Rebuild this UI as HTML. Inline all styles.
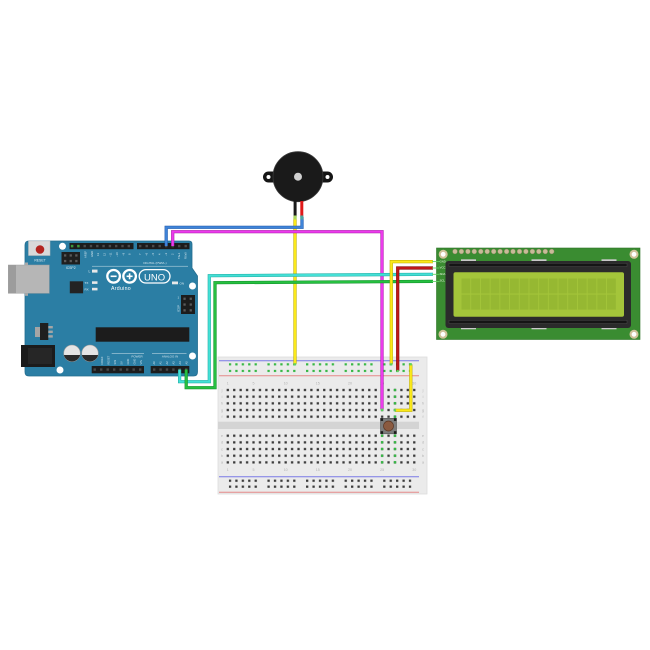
<!DOCTYPE html>
<html><head><meta charset="utf-8"><style>
html,body{margin:0;padding:0;background:#fff;}
svg{display:block;}
text{font-family:"Liberation Sans",sans-serif;}
</style></head><body>
<svg width="650" height="650" viewBox="0 0 650 650" xmlns="http://www.w3.org/2000/svg">
<defs>
 <pattern id="bbt" x="224.585" y="386.67" width="6.43" height="6.67" patternUnits="userSpaceOnUse"><rect x="2.065" y="2.185" width="2.3" height="2.3" fill="#3a3a3a"/></pattern>
 <pattern id="bbb" x="224.585" y="432.37" width="6.43" height="6.67" patternUnits="userSpaceOnUse"><rect x="2.065" y="2.185" width="2.3" height="2.3" fill="#3a3a3a"/></pattern>
 <pattern id="railt" x="228.85" y="363.15" width="38.58" height="6.7" patternUnits="userSpaceOnUse">
  <rect x="0" y="0" width="2.3" height="2.3" fill="#36b845"/><rect x="6.43" y="0" width="2.3" height="2.3" fill="#36b845"/><rect x="12.86" y="0" width="2.3" height="2.3" fill="#36b845"/><rect x="19.29" y="0" width="2.3" height="2.3" fill="#36b845"/><rect x="25.72" y="0" width="2.3" height="2.3" fill="#36b845"/>
 </pattern>
 <pattern id="railb" x="228.85" y="479.55" width="38.58" height="6" patternUnits="userSpaceOnUse">
  <rect x="0" y="0" width="2.3" height="2.3" fill="#3a3a3a"/><rect x="6.43" y="0" width="2.3" height="2.3" fill="#3a3a3a"/><rect x="12.86" y="0" width="2.3" height="2.3" fill="#3a3a3a"/><rect x="19.29" y="0" width="2.3" height="2.3" fill="#3a3a3a"/><rect x="25.72" y="0" width="2.3" height="2.3" fill="#3a3a3a"/>
 </pattern>
</defs>

<!-- ================= BREADBOARD ================= -->
<rect x="218" y="357" width="209" height="137" fill="#ebebeb" stroke="#dcdcdc" stroke-width="0.8"/>
<rect x="218" y="421.7" width="201" height="7.3" fill="#d4d4d4"/>
<line x1="219" y1="360.7" x2="419" y2="360.7" stroke="#7a7ae6" stroke-width="1"/>
<line x1="219" y1="375.7" x2="419" y2="375.7" stroke="#e58a8a" stroke-width="1"/>
<line x1="219" y1="476.7" x2="419" y2="476.7" stroke="#7a7ae6" stroke-width="1"/>
<line x1="219" y1="492.3" x2="419" y2="492.3" stroke="#e58a8a" stroke-width="1"/>
<rect x="228.85" y="363.15" width="182.5" height="9" fill="url(#railt)"/>
<rect x="228.85" y="479.55" width="182.5" height="8.4" fill="url(#railb)"/>
<rect x="224.585" y="386.67" width="192.9" height="33.35" fill="url(#bbt)"/>
<rect x="224.585" y="432.37" width="192.9" height="33.35" fill="url(#bbb)"/>
<!-- green connected holes -->
<g fill="#36b845">
 <rect x="393.85" y="388.85" width="2.3" height="2.3"/><rect x="393.85" y="395.55" width="2.3" height="2.3"/><rect x="393.85" y="402.15" width="2.3" height="2.3"/><rect x="393.85" y="408.85" width="2.3" height="2.3"/><rect x="393.85" y="415.55" width="2.3" height="2.3"/>
 <rect x="380.95" y="408.85" width="2.3" height="2.3"/>
 <rect x="380.95" y="434.55" width="2.3" height="2.3"/><rect x="380.95" y="441.15" width="2.3" height="2.3"/><rect x="380.95" y="447.85" width="2.3" height="2.3"/><rect x="380.95" y="454.55" width="2.3" height="2.3"/><rect x="380.95" y="461.15" width="2.3" height="2.3"/>
 <rect x="393.85" y="434.55" width="2.3" height="2.3"/><rect x="393.85" y="441.15" width="2.3" height="2.3"/><rect x="393.85" y="447.85" width="2.3" height="2.3"/><rect x="393.85" y="454.55" width="2.3" height="2.3"/><rect x="393.85" y="461.15" width="2.3" height="2.3"/>
</g>
<!-- labels -->
<g font-size="3.6" fill="#b0b0b0" text-anchor="middle">
 <text x="227.8" y="384.5">1</text><text x="253.5" y="384.5">5</text><text x="285.7" y="384.5">10</text><text x="317.8" y="384.5">15</text><text x="350" y="384.5">20</text><text x="382.1" y="384.5">25</text><text x="414.3" y="384.5">30</text>
 <text x="227.8" y="471">1</text><text x="253.5" y="471">5</text><text x="285.7" y="471">10</text><text x="317.8" y="471">15</text><text x="350" y="471">20</text><text x="382.1" y="471">25</text><text x="414.3" y="471">30</text>
 <text x="222" y="391.3">j</text><text x="222" y="398">i</text><text x="222" y="404.6">h</text><text x="222" y="411.3">g</text><text x="222" y="418">f</text>
 <text x="222" y="437">e</text><text x="222" y="443.6">d</text><text x="222" y="450.3">c</text><text x="222" y="457">b</text><text x="222" y="463.6">a</text>
 <text x="423" y="391.3">j</text><text x="423" y="398">i</text><text x="423" y="404.6">h</text><text x="423" y="411.3">g</text><text x="423" y="418">f</text>
 <text x="423" y="437">e</text><text x="423" y="443.6">d</text><text x="423" y="450.3">c</text><text x="423" y="457">b</text><text x="423" y="463.6">a</text>
</g>
<!-- push button -->
<rect x="380.5" y="418.3" width="16" height="15.5" fill="#7c7c7c" stroke="#555" stroke-width="0.6"/>
<g fill="#1a1a1a"><rect x="380.5" y="418.3" width="2.6" height="2.6"/><rect x="393.9" y="418.3" width="2.6" height="2.6"/><rect x="380.5" y="431.2" width="2.6" height="2.6"/><rect x="393.9" y="431.2" width="2.6" height="2.6"/></g>
<circle cx="388.5" cy="426" r="5" fill="#8a5a40" stroke="#5a3522" stroke-width="0.7"/>

<!-- ================= ARDUINO ================= -->
<path d="M29,241 H189 Q192,241 192,244 V268 L197.5,276 V372 Q197.5,376 193.5,376 H29 Q25,376 25,372 V245 Q25,241 29,241 Z" fill="#2b7ea4" stroke="#246d8f" stroke-width="0.8"/>
<!-- USB -->
<rect x="8.3" y="265" width="41" height="28.3" fill="#b6b6b6" stroke="#a0a0a0" stroke-width="0.5"/>
<rect x="8.3" y="265" width="7.7" height="28.3" fill="#9c9c9c"/>
<rect x="25" y="262.5" width="3" height="2.5" fill="#a8a8a8"/><rect x="25" y="293.3" width="3" height="2.5" fill="#a8a8a8"/>
<!-- reset -->
<rect x="28.5" y="241" width="21.5" height="14.5" fill="#d9d9d9" stroke="#bdbdbd" stroke-width="0.5"/>
<circle cx="40" cy="249.5" r="4.3" fill="#b3241f"/>
<text x="40" y="261.5" font-size="3.4" fill="#e6f0f5" text-anchor="middle">RESET</text>
<!-- mounting holes -->
<circle cx="62.5" cy="246.3" r="3.5" fill="#fff"/>
<circle cx="192.5" cy="286" r="3.5" fill="#fff"/>
<circle cx="192.5" cy="356" r="3.5" fill="#fff"/>
<circle cx="60" cy="370" r="3.5" fill="#fff"/>
<!-- ICSP2 -->
<rect x="61.5" y="252" width="18.5" height="12.5" fill="#1f1f1f"/>
<g fill="#5a5a5a"><rect x="64" y="254.3" width="2.3" height="2.3"/><rect x="69.6" y="254.3" width="2.3" height="2.3"/><rect x="75.2" y="254.3" width="2.3" height="2.3"/><rect x="64" y="259.9" width="2.3" height="2.3"/><rect x="69.6" y="259.9" width="2.3" height="2.3"/><rect x="75.2" y="259.9" width="2.3" height="2.3"/></g>
<text x="70.7" y="268.8" font-size="3.4" fill="#e6f0f5" text-anchor="middle">ICSP2</text>
<!-- top headers -->
<rect x="69.5" y="243" width="64" height="6.2" fill="#1c1c1c"/>
<line x1="70.9" y1="246.1" x2="133" y2="246.1" stroke="#4a4a4a" stroke-width="2.4" stroke-dasharray="2.4 3.9"/>
<rect x="70.9" y="244.9" width="2.4" height="2.4" fill="#3a9a3a"/><rect x="77.2" y="244.9" width="2.4" height="2.4" fill="#3a9a3a"/>
<rect x="137" y="243" width="52.5" height="6.2" fill="#1c1c1c"/>
<line x1="139" y1="246.1" x2="189" y2="246.1" stroke="#4a4a4a" stroke-width="2.4" stroke-dasharray="2.4 4.1"/>
<g font-size="2.7" fill="#d5e6ee">
 <text transform="translate(86.5,258) rotate(-90)">AREF</text>
 <text transform="translate(92.8,257) rotate(-90)">GND</text>
 <text transform="translate(99.1,256) rotate(-90)">13</text>
 <text transform="translate(105.4,256) rotate(-90)">12</text>
 <text transform="translate(111.7,257) rotate(-90)">~11</text>
 <text transform="translate(118,257) rotate(-90)">~10</text>
 <text transform="translate(124.3,256) rotate(-90)">~9</text>
 <text transform="translate(130.6,255) rotate(-90)">8</text>
 <text transform="translate(141.2,255) rotate(-90)">7</text>
 <text transform="translate(147.7,256) rotate(-90)">~6</text>
 <text transform="translate(154.2,256) rotate(-90)">~5</text>
 <text transform="translate(160.7,255) rotate(-90)">4</text>
 <text transform="translate(167.2,256) rotate(-90)">~3</text>
 <text transform="translate(173.7,255) rotate(-90)">2</text>
 <text transform="translate(180.2,259) rotate(-90)">TX▸1</text>
 <text transform="translate(186.7,259) rotate(-90)">RX◂0</text>
</g>
<text x="155" y="264" font-size="3" fill="#d5e6ee" text-anchor="middle">DIGITAL (PWM~)</text>
<line x1="92" y1="266.2" x2="188" y2="266.2" stroke="#d5e6ee" stroke-width="0.5"/>
<!-- LEDs -->
<rect x="92" y="269.6" width="5.5" height="3" fill="#e8e8e8"/>
<text x="88.5" y="272.6" font-size="3.3" fill="#e6f0f5">L</text>
<rect x="92" y="281.3" width="5.5" height="2.6" fill="#e8e8e8"/>
<rect x="92" y="287.8" width="5.5" height="2.6" fill="#e8e8e8"/>
<text x="84.5" y="284" font-size="3" fill="#e6f0f5">TX</text>
<text x="84.5" y="290.5" font-size="3" fill="#e6f0f5">RX</text>
<rect x="172" y="281.5" width="6" height="2.8" fill="#e8e8e8"/>
<text x="179.5" y="284.3" font-size="3" fill="#e6f0f5">ON</text>
<!-- small chip -->
<rect x="69.8" y="281.3" width="13.3" height="12" fill="#232323"/>
<!-- logo -->
<circle cx="113.6" cy="276.3" r="6.3" fill="none" stroke="#fff" stroke-width="2.3"/>
<circle cx="129.6" cy="276.3" r="6.3" fill="none" stroke="#fff" stroke-width="2.3"/>
<line x1="110.6" y1="276.3" x2="116.6" y2="276.3" stroke="#fff" stroke-width="1.6"/>
<line x1="126.6" y1="276.3" x2="132.6" y2="276.3" stroke="#fff" stroke-width="1.6"/>
<line x1="129.6" y1="273.3" x2="129.6" y2="279.3" stroke="#fff" stroke-width="1.6"/>
<rect x="139.2" y="269.6" width="30.8" height="13.4" rx="6.7" fill="none" stroke="#fff" stroke-width="1.3"/>
<text x="154.6" y="280.4" font-size="9.5" fill="#fff" text-anchor="middle">UNO</text>
<text x="121" y="289.8" font-size="5.2" fill="#fff" text-anchor="middle" letter-spacing="0.3">Arduino</text>
<!-- right ICSP -->
<rect x="181" y="295" width="14" height="19" fill="#1c1c1c"/>
<g fill="#5a5a5a"><rect x="183.4" y="297.6" width="2.3" height="2.3"/><rect x="189.6" y="297.6" width="2.3" height="2.3"/><rect x="183.4" y="303.4" width="2.3" height="2.3"/><rect x="189.6" y="303.4" width="2.3" height="2.3"/><rect x="183.4" y="309.2" width="2.3" height="2.3"/><rect x="189.6" y="309.2" width="2.3" height="2.3"/></g>
<text transform="translate(179.5,312) rotate(-90)" font-size="3" fill="#d5e6ee">ICSP</text>
<text x="177.5" y="298.5" font-size="3" fill="#d5e6ee">1</text>
<!-- regulator -->
<rect x="35" y="327" width="5.5" height="10" fill="#a5a5a5"/>
<rect x="40" y="323" width="8.3" height="17" fill="#1f1f1f"/>
<g fill="#a5a5a5"><rect x="48.3" y="326" width="4.5" height="2.4"/><rect x="48.3" y="330.6" width="4.5" height="2.4"/><rect x="48.3" y="335.2" width="4.5" height="2.4"/></g>
<!-- power jack -->
<rect x="21" y="345" width="34" height="22" fill="#1b1b1b"/>
<rect x="28" y="348" width="24" height="16" fill="#262626"/>
<!-- capacitors -->
<circle cx="72" cy="353.3" r="8.3" fill="#e4e4e4" stroke="#9a9a9a" stroke-width="0.6"/>
<path d="M63.9,355 A8.3,8.3 0 0,0 80.1,355 Z" fill="#2a2a2a"/>
<circle cx="90" cy="353.3" r="8.3" fill="#e4e4e4" stroke="#9a9a9a" stroke-width="0.6"/>
<path d="M81.9,355 A8.3,8.3 0 0,0 98.1,355 Z" fill="#2a2a2a"/>
<!-- big chip -->
<rect x="95.7" y="327.3" width="93.6" height="14.4" fill="#1c1c1c"/>
<!-- bottom labels -->
<line x1="111.7" y1="353.3" x2="144" y2="353.3" stroke="#d5e6ee" stroke-width="0.5"/>
<line x1="152" y1="353.3" x2="186.5" y2="353.3" stroke="#d5e6ee" stroke-width="0.5"/>
<text x="137" y="357.3" font-size="3" fill="#d5e6ee" text-anchor="middle">POWER</text>
<text x="170" y="357.3" font-size="3" fill="#d5e6ee" text-anchor="middle">ANALOG IN</text>
<g font-size="2.6" fill="#d5e6ee">
 <text transform="translate(103.2,364.5) rotate(-90)">IOREF</text>
 <text transform="translate(109.7,364.5) rotate(-90)">RESET</text>
 <text transform="translate(116.2,364.5) rotate(-90)">3V3</text>
 <text transform="translate(122.7,364.5) rotate(-90)">5V</text>
 <text transform="translate(129.2,364.5) rotate(-90)">GND</text>
 <text transform="translate(135.7,364.5) rotate(-90)">GND</text>
 <text transform="translate(142.2,364.5) rotate(-90)">VIN</text>
 <text transform="translate(155.2,364.5) rotate(-90)">A0</text>
 <text transform="translate(161.6,364.5) rotate(-90)">A1</text>
 <text transform="translate(168,364.5) rotate(-90)">A2</text>
 <text transform="translate(174.5,364.5) rotate(-90)">A3</text>
 <text transform="translate(180.9,364.5) rotate(-90)">A4</text>
 <text transform="translate(187.3,364.5) rotate(-90)">A5</text>
</g>
<!-- bottom headers -->
<rect x="91.7" y="366" width="52.3" height="7.3" fill="#1c1c1c"/>
<line x1="93.5" y1="369.6" x2="144" y2="369.6" stroke="#4a4a4a" stroke-width="2.4" stroke-dasharray="2.4 4.1"/>
<rect x="150.7" y="366" width="38.6" height="7.3" fill="#1c1c1c"/>
<line x1="153" y1="369.6" x2="189" y2="369.6" stroke="#4a4a4a" stroke-width="2.4" stroke-dasharray="2.4 4"/>

<!-- ================= LCD ================= -->
<rect x="436.5" y="248" width="203.5" height="91.5" fill="#3a8c31" stroke="#2e7427" stroke-width="0.6"/>
<g fill="#c8bb98" stroke="#8f8464" stroke-width="0.4">
 <circle cx="455" cy="251.5" r="2.4"/><circle cx="461.4" cy="251.5" r="2.4"/><circle cx="467.9" cy="251.5" r="2.4"/><circle cx="474.3" cy="251.5" r="2.4"/><circle cx="480.8" cy="251.5" r="2.4"/><circle cx="487.2" cy="251.5" r="2.4"/><circle cx="493.7" cy="251.5" r="2.4"/><circle cx="500.1" cy="251.5" r="2.4"/><circle cx="506.6" cy="251.5" r="2.4"/><circle cx="513" cy="251.5" r="2.4"/><circle cx="519.5" cy="251.5" r="2.4"/><circle cx="525.9" cy="251.5" r="2.4"/><circle cx="532.4" cy="251.5" r="2.4"/><circle cx="538.8" cy="251.5" r="2.4"/><circle cx="545.3" cy="251.5" r="2.4"/><circle cx="551.7" cy="251.5" r="2.4"/>
</g>
<g fill="#cfc29a"><circle cx="443.2" cy="254.3" r="4.5"/><circle cx="634" cy="254.3" r="4.5"/><circle cx="443" cy="334.3" r="4.5"/><circle cx="634" cy="334.3" r="4.5"/></g>
<g fill="#ffffff"><circle cx="443.2" cy="254.3" r="2.4"/><circle cx="634" cy="254.3" r="2.4"/><circle cx="443" cy="334.3" r="2.4"/><circle cx="634" cy="334.3" r="2.4"/></g>
<g fill="#c9c9c9"><rect x="461" y="259.3" width="15" height="2"/><rect x="531.5" y="259.3" width="15" height="2"/><rect x="601.5" y="259.3" width="15" height="2"/>
<rect x="461" y="327.3" width="15" height="2"/><rect x="531.5" y="327.3" width="15" height="2"/><rect x="601.5" y="327.3" width="15" height="2"/></g>
<rect x="445.5" y="261" width="185.5" height="67" rx="3" fill="#2b2b2b"/>
<rect x="449" y="263.3" width="178" height="3.2" fill="#151515" stroke="#4a4a4a" stroke-width="0.5"/>
<rect x="449" y="320.3" width="178" height="3.2" fill="#151515" stroke="#4a4a4a" stroke-width="0.5"/>
<rect x="453.5" y="272.3" width="170.5" height="44.4" rx="2" fill="#a4c53a"/>
<g fill="#96b832">
 <rect x="461.5" y="278.5" width="8.8" height="15"/><rect x="471.2" y="278.5" width="8.8" height="15"/><rect x="480.9" y="278.5" width="8.8" height="15"/><rect x="490.6" y="278.5" width="8.8" height="15"/><rect x="500.3" y="278.5" width="8.8" height="15"/><rect x="510" y="278.5" width="8.8" height="15"/><rect x="519.7" y="278.5" width="8.8" height="15"/><rect x="529.4" y="278.5" width="8.8" height="15"/><rect x="539.1" y="278.5" width="8.8" height="15"/><rect x="548.8" y="278.5" width="8.8" height="15"/><rect x="558.5" y="278.5" width="8.8" height="15"/><rect x="568.2" y="278.5" width="8.8" height="15"/><rect x="577.9" y="278.5" width="8.8" height="15"/><rect x="587.6" y="278.5" width="8.8" height="15"/><rect x="597.3" y="278.5" width="8.8" height="15"/><rect x="607" y="278.5" width="8.8" height="15"/>
 <rect x="461.5" y="294.6" width="8.8" height="15"/><rect x="471.2" y="294.6" width="8.8" height="15"/><rect x="480.9" y="294.6" width="8.8" height="15"/><rect x="490.6" y="294.6" width="8.8" height="15"/><rect x="500.3" y="294.6" width="8.8" height="15"/><rect x="510" y="294.6" width="8.8" height="15"/><rect x="519.7" y="294.6" width="8.8" height="15"/><rect x="529.4" y="294.6" width="8.8" height="15"/><rect x="539.1" y="294.6" width="8.8" height="15"/><rect x="548.8" y="294.6" width="8.8" height="15"/><rect x="558.5" y="294.6" width="8.8" height="15"/><rect x="568.2" y="294.6" width="8.8" height="15"/><rect x="577.9" y="294.6" width="8.8" height="15"/><rect x="587.6" y="294.6" width="8.8" height="15"/><rect x="597.3" y="294.6" width="8.8" height="15"/><rect x="607" y="294.6" width="8.8" height="15"/>
</g>
<g font-size="2.8" fill="#e8f5e0">
 <text x="439.6" y="262.6">GND</text><text x="439.6" y="268.6">VCC</text><text x="439.6" y="275">SDA</text><text x="439.6" y="281.6">SCL</text>
</g>

<!-- ================= BUZZER ================= -->
<rect x="263" y="171.5" width="70" height="11" rx="5.5" fill="#151515"/>
<circle cx="268.5" cy="177" r="2" fill="#fff"/>
<circle cx="327.5" cy="177" r="2" fill="#fff"/>
<circle cx="298" cy="176.7" r="25" fill="#1a1a1a" stroke="#3a3a3a" stroke-width="0.8"/>
<circle cx="298" cy="176.7" r="4" fill="#d0d0d0"/>
<rect x="293.6" y="201" width="3" height="16" fill="#1a1a1a"/>
<rect x="300.3" y="201" width="3" height="16" fill="#e01a1a"/>

<!-- ================= WIRES ================= -->
<g fill="none" stroke-linejoin="miter" stroke-linecap="butt">
 <!-- yellow buzzer -->
 <path d="M295,217 V364.3" stroke="#b8a800" stroke-width="3.2"/>
 <path d="M295,217 V364.3" stroke="#fbe91a" stroke-width="2.2"/>
 <!-- blue -->
 <path d="M166.2,246 V227.3 H302 V217" stroke="#1f55a8" stroke-width="3.2"/>
 <path d="M166.2,246 V227.3 H302 V217" stroke="#3f84d8" stroke-width="2.2"/>
 <!-- magenta -->
 <path d="M172.7,246 V231.7 H382 V409.5" stroke="#a01aa0" stroke-width="3.2"/>
 <path d="M172.7,246 V231.7 H382 V409.5" stroke="#ec3aec" stroke-width="2.2"/>
 <!-- cyan -->
 <path d="M179.6,369.5 V381.7 H209.3 V275.7 L433,274.3" stroke="#1fa8a0" stroke-width="3.2"/>
 <path d="M179.6,369.5 V381.7 H209.3 V275.7 L433,274.3" stroke="#44e0d6" stroke-width="2.2"/>
 <!-- green -->
 <path d="M186.2,369.5 V387.7 H215 V282.7 L433,281.4" stroke="#118a2a" stroke-width="3.2"/>
 <path d="M186.2,369.5 V387.7 H215 V282.7 L433,281.4" stroke="#26c040" stroke-width="2.2"/>
 <!-- yellow LCD GND -->
 <path d="M433,261.6 H391.3 V364.3" stroke="#b8a800" stroke-width="3.2"/>
 <path d="M433,261.6 H391.3 V364.3" stroke="#fbe91a" stroke-width="2.2"/>
 <!-- red LCD VCC -->
 <path d="M433,268 H397.7 V371" stroke="#7a0a0a" stroke-width="3.2"/>
 <path d="M433,268 H397.7 V371" stroke="#c01818" stroke-width="2.2"/>
 <!-- yellow rail to button -->
 <path d="M410.8,364.3 V410.3 H395" stroke="#b8a800" stroke-width="3.2"/>
 <path d="M410.8,364.3 V410.3 H395" stroke="#fbe91a" stroke-width="2.2"/>
</g>
<!-- LCD pin stubs -->
<g stroke="#5fd35f" stroke-width="0.9">
 <line x1="432" y1="261.6" x2="439.5" y2="261.6"/><line x1="432" y1="268" x2="439.5" y2="268"/><line x1="432" y1="274.3" x2="439.5" y2="274.3"/><line x1="432" y1="281.4" x2="439.5" y2="281.4"/>
</g>
<!-- buzzer lead tips -->
<rect x="293.6" y="215.5" width="3" height="4" fill="#a8d860"/>
<rect x="300.3" y="215.5" width="3" height="4" fill="#4aa8a0"/>
<!-- wire end dots -->
<g fill="#5fd35f">
 <rect x="293.9" y="363.2" width="2.2" height="2.2"/><rect x="390.2" y="363.2" width="2.2" height="2.2"/><rect x="396.6" y="369.9" width="2.2" height="2.2"/><rect x="409.7" y="363.2" width="2.2" height="2.2"/>
 <rect x="380.9" y="408.6" width="2.2" height="2.2"/><rect x="393.9" y="409.2" width="2.2" height="2.2"/>
</g>
</svg>
</body></html>
